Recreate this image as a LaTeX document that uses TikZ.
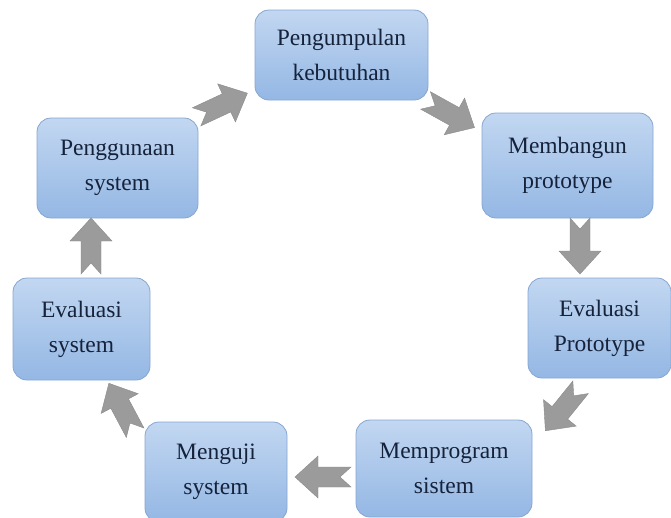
\documentclass[tikz,border=0pt]{standalone}
\usepackage{fontspec}
\setmainfont{Liberation Serif}
\definecolor{boxtop}{HTML}{C2D7F1}
\definecolor{boxbot}{HTML}{94B7E4}
\definecolor{boxline}{HTML}{86A6D2}
\definecolor{txt}{HTML}{15223A}
\definecolor{arrowgray}{HTML}{9B9B9B}
\definecolor{arrowline}{HTML}{8A8A8A}
\tikzset{
  stagebox/.style={draw=boxline, line width=0.8pt, rounded corners=14pt,
    top color=boxtop, bottom color=boxbot, align=center, text=txt,
    font=\fontsize{23.5}{35}\selectfont, inner sep=0pt},
  chev/.pic={
    \filldraw[fill=arrowgray, draw=arrowline, line width=0.4pt]
      (-28,10) -- (5,10) -- (5,21) -- (28,0) -- (5,-21) -- (5,-10)
      -- (-28,-10) -- (-17,0) -- cycle;
  }
}
\begin{document}
\begin{tikzpicture}[x=1pt, y=-1pt]
\useasboundingbox (0,0) rectangle (671,517);
% stages
\node[stagebox, minimum width=173pt, minimum height=90pt]  (A) at (341.5,55)  {Pengumpulan\\kebutuhan};
\node[stagebox, minimum width=171pt, minimum height=105pt] (B) at (567.5,165.5) {Membangun\\prototype};
\node[stagebox, minimum width=143pt, minimum height=100pt] (C) at (599.5,328) {Evaluasi\\Prototype};
\node[stagebox, minimum width=176pt, minimum height=97pt]  (D) at (444,468.5) {Memprogram\\sistem};
\node[stagebox, minimum width=142pt, minimum height=100pt] (E) at (216,472)   {Menguji\\system};
\node[stagebox, minimum width=137pt, minimum height=102pt] (F) at (81.5,329)  {Evaluasi\\system};
\node[stagebox, minimum width=161pt, minimum height=100pt] (G) at (117.5,168) {Penggunaan\\system};
% block arrows
\pic[rotate=25]   at (222,105) {chev};
\pic[rotate=-29]  at (450,114) {chev};
\pic[rotate=-90]  at (580,246) {chev};
\pic[rotate=-129] at (563,409) {chev};
\pic[rotate=180]  at (323,477) {chev};
\pic[rotate=118]  at (122,408) {chev};
\pic[rotate=90]   at (91,246)  {chev};
\end{tikzpicture}
\end{document}
